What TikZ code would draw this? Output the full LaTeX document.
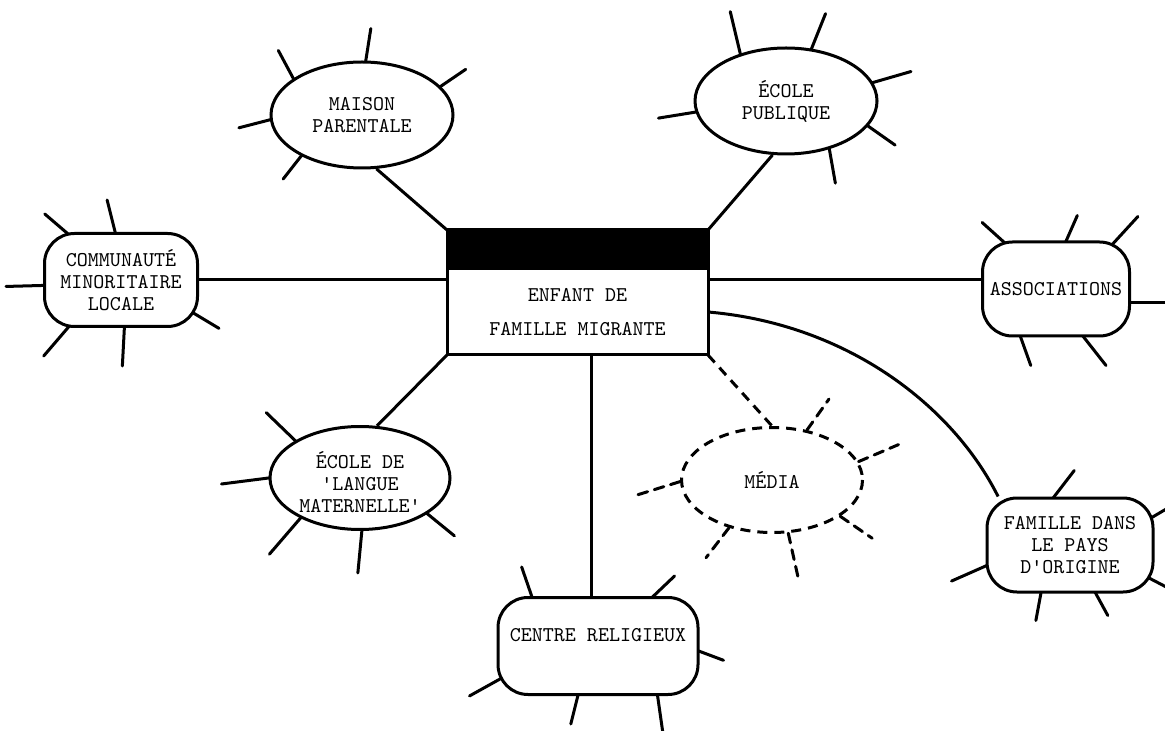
\documentclass[tikz,border=0pt]{standalone}
\usepackage{fontspec}
\usetikzlibrary{shapes.geometric,positioning,backgrounds}
\newcommand\typewriter{\ttfamily\addfontfeatures{FakeBold=0.6}}
\tikzset{
  wire/.style={line width=1.5pt},
  dashwire/.style={line width=1.5pt, dash pattern=on 5pt off 3.5pt},
  spike/.style={line width=1.5pt, line cap=round, shorten <=-6pt},
  label font/.style={font=\typewriter\fontsize{10.5}{11}\selectfont},
  bubble/.style={ellipse, draw, line width=1.5pt, fill=white, inner sep=0pt,
    minimum width=91pt, minimum height=53pt, align=center, label font},
  pill/.style={rectangle, rounded corners=15pt, draw, line width=1.5pt, fill=white,
    inner sep=0pt, align=center, label font},
}

\begin{document}
\begin{tikzpicture}[x=0.5pt, y=-0.5pt]
  % --- Canvas (one unit = one pixel of the scan) ---
  \useasboundingbox (0,0) rectangle (1165,731);

  % --- 1. The child in the middle ---
  \node[draw, fill=black, line width=1.5pt, outer sep=0pt,
        minimum width=130.5pt, minimum height=19.5pt] (bar) at (577.5,249.5) {};
  \node[draw, fill=white, line width=1.5pt, outer sep=0pt,
        minimum width=130.5pt, minimum height=43pt, align=center,
        font=\typewriter\fontsize{10.5}{17}\selectfont,
        below=0pt of bar] (enfant) {ENFANT DE\\FAMILLE MIGRANTE};

  % --- 2. Surrounding settings ---
  \node[bubble] (maison) at (362,115) {MAISON\\PARENTALE};
  \node[bubble] (ecole) at (786,101) {ÉCOLE\\PUBLIQUE};
  \node[pill, minimum width=76.5pt, minimum height=46.5pt] (communaute) at (121,280)
    {COMMUNAUTÉ\\MINORITAIRE\\LOCALE};
  \node[pill, minimum width=73.5pt, minimum height=47pt] (associations) at (1056,289)
    {ASSOCIATIONS};
  \node[bubble, minimum width=90pt, minimum height=51.5pt] (langue) at (360,478)
    {\mbox{}\\[2pt]ÉCOLE DE\\'LANGUE\\MATERNELLE'};
  \node[bubble, draw=none, minimum width=90.5pt, minimum height=52.5pt] (media) at (772,480)
    {MÉDIA};
  \node[pill, minimum width=83pt, minimum height=47pt] (famille) at (1070,545)
    {FAMILLE DANS\\LE PAYS\\D'ORIGINE};
  \node[pill, minimum width=100pt, minimum height=48.5pt] (centre) at (598,646)
    {CENTRE RELIGIEUX\\\mbox{}};

  % media ring is dashed
  \draw[dashwire] (media.center) ellipse (90.5 and 52.5);

  % --- 3. Links and rays (behind the shapes) ---
  \begin{pgfonlayer}{background}
    \draw[wire] (maison.-75) -- (bar.north west);
    \draw[wire] (ecole.-104) -- (bar.north east);
    \draw[wire] (communaute.east) -- (communaute.east -| enfant.west);
    \draw[wire] (enfant.east |- communaute.east) -- (communaute.east -| associations.west);
    \draw[wire] (langue.72) -- (enfant.south west);
    \draw[wire] (centre.97) -- (centre.97 |- enfant.south);
    \draw[dashwire] (enfant.south east) -- (media.north);
    \draw[wire] (enfant.east) .. controls +(140,12) and +(-45,-90) .. (famille.146);

    % rays: anchor angle / dx / dy
    \foreach \a/\dx/\dy in {86/5/-32, 152/-15/-28, 20/25/-17, 183/-31/8, 214/-18/23}
      \draw[spike] (maison.\a) -- ++(\dx,\dy);
    \foreach \a/\dx/\dy in {134/-10/-42, 64/14/-35, 12/38/-11, -17/27/19, -48/6/34, 187/-37/6}
      \draw[spike] (ecole.\a) -- ++(\dx,\dy);
    \foreach \a/\dx/\dy in {97/-8/-32, 139/-21/-18, 184/-37/1, 222/-24/28, 274/-2/38, 335/20/12}
      \draw[spike] (communaute.\a) -- ++(\dx,\dy);
    \foreach \a/\dx/\dy in {138/-20/-18, 78/11/-25, 39/22/-24, 350/35/0, 234/10/28, 300/22/28}
      \draw[spike] (associations.\a) -- ++(\dx,\dy);
    \foreach \a/\dx/\dy in {108/20/-26, 19/22/-13, 337/23/12, 298/12/22, 239/-5/27, 194/-34/15}
      \draw[spike] (famille.\a) -- ++(\dx,\dy);
    \foreach \a/\dx/\dy in {143/-10/-29, 42/21/-20, 357/24/9, 199/-27/15, 248/-7/28, 320/5/35}
      \draw[spike] (centre.\a) -- ++(\dx,\dy);
    \foreach \a/\dx/\dy in {150/-29/-28, 180/-47/6, 214/-31/36, 272/-4/42, 332/27/22}
      \draw[spike] (langue.\a) -- ++(\dx,\dy);
    \foreach \a/\dx/\dy in {55/22/-31, 12/40/-17, 332/32/22, 287/10/45, 228/-23/30, 181/-45/14}
      \draw[spike, dashwire, shorten <=0pt] (media.\a) -- ++(\dx,\dy);
  \end{pgfonlayer}
\end{tikzpicture}
\end{document}
